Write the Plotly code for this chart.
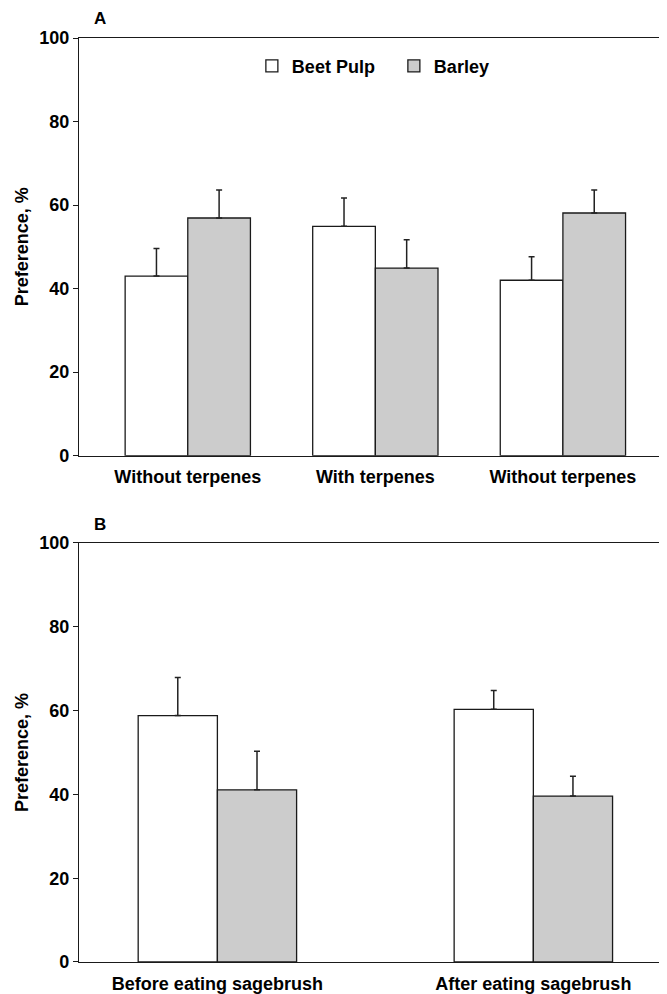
import plotly.graph_objects as go

# ---- data ----
labels_a = ["Without terpenes", "With terpenes", "Without terpenes"]
beet_a = [43.0, 54.9, 42.0]
beet_a_err = [6.6, 6.8, 5.6]
barley_a = [56.9, 44.9, 58.1]
barley_a_err = [6.7, 6.8, 5.5]

labels_b = ["Before eating sagebrush", "After eating sagebrush"]
beet_b = [58.8, 60.3]
beet_b_err = [9.1, 4.5]
barley_b = [41.1, 39.6]
barley_b_err = [9.2, 4.7]

series_names = ["Beet Pulp", "Barley"]
yticks = [0, 20, 40, 60, 80, 100]

# ---- style ----
FONT = "Liberation Sans, Arial, sans-serif"
WHITE = "#ffffff"
GRAY = "#cccccc"
LINE = "#1a1a1a"

xa = list(range(len(labels_a)))
xb = list(range(len(labels_b)))

fig = go.Figure()

def add_bar(x, y, err, name, color, xaxis, yaxis, width, offset, showlegend):
    fig.add_trace(go.Bar(
        x=x, y=y, name=name,
        marker=dict(color=color, line=dict(color=LINE, width=1.3)),
        error_y=dict(type="data", array=err, arrayminus=[0] * len(err),
                     symmetric=False, color="#222", thickness=1.5, width=3),
        width=width, offset=offset,
        xaxis=xaxis, yaxis=yaxis, showlegend=showlegend,
        legendgroup=name,
    ))

wa = 0.334
add_bar(xa, beet_a, beet_a_err, series_names[0], WHITE, "x", "y", wa, -wa, True)
add_bar(xa, barley_a, barley_a_err, series_names[1], GRAY, "x", "y", wa, 0, True)
wb = 0.2507
add_bar(xb, beet_b, beet_b_err, series_names[0], WHITE, "x2", "y2", wb, -wb, False)
add_bar(xb, barley_b, barley_b_err, series_names[1], GRAY, "x2", "y2", wb, 0, False)

tickfont = dict(family=FONT, size=18, color="#000", weight=700)

xcommon = dict(showline=True, linecolor=LINE, linewidth=1.3, mirror=True,
               ticks="", showgrid=False, zeroline=False, tickmode="array",
               tickfont=tickfont, ticklabelstandoff=5)
ycommon = dict(showline=True, linecolor=LINE, linewidth=1.3, mirror=False,
               ticks="outside", ticklen=5, tickcolor=LINE, tickwidth=1.2,
               showgrid=False, zeroline=False, range=[0, 100],
               tickvals=yticks, tickfont=tickfont,
               title=dict(text="Preference, %", font=dict(family=FONT, size=18, color="#000", weight=700),
                          standoff=5))

fig.update_layout(
    width=659, height=986,
    margin=dict(l=70.5, r=0, t=30, b=32),
    paper_bgcolor="white", plot_bgcolor="white",
    barmode="overlay",
    xaxis=dict(xcommon, domain=[0, 1], anchor="y", range=[-0.58, 2.555],
               tickvals=xa, ticktext=labels_a),
    yaxis=dict(ycommon, domain=[0.548, 1], anchor="x"),
    xaxis2=dict(xcommon, domain=[0, 1], anchor="y2", range=[-0.438, 1.423],
                tickvals=xb, ticktext=labels_b),
    yaxis2=dict(ycommon, domain=[0, 0.4535], anchor="x2"),
    legend=dict(orientation="h", x=0.294, y=0.9895, xanchor="left", yanchor="top",
                font=dict(family=FONT, size=18, color="#000", weight=700),
                bgcolor="rgba(0,0,0,0)", entrywidth=97, entrywidthmode="pixels"),
    annotations=[
        dict(text="A", x=0.035, y=1.0213, xref="paper", yref="paper",
             showarrow=False, xanchor="center", yanchor="middle",
             font=dict(family=FONT, size=17, color="#000", weight=700)),
        dict(text="B", x=0.035, y=0.474, xref="paper", yref="paper",
             showarrow=False, xanchor="center", yanchor="middle",
             font=dict(family=FONT, size=17, color="#000", weight=700)),
    ],
)

fig.write_html("out.html")
